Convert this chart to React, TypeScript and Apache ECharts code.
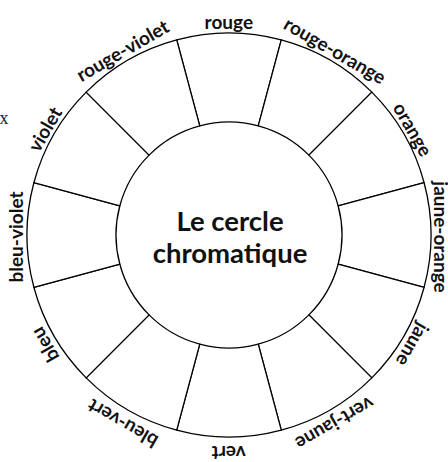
import React, { useEffect, useRef } from "react";
import * as echarts from "echarts";

const colorNames: string[] = [
  "rouge",
  "rouge-orange",
  "orange",
  "jaune-orange",
  "jaune",
  "vert-jaune",
  "vert",
  "bleu-vert",
  "bleu",
  "bleu-violet",
  "violet",
  "rouge-violet",
];
const sliceValues: number[] = [1, 1, 1, 1, 1, 1, 1, 1, 1, 1, 1, 1];
const titleLines: string[] = ["Le cercle", "chromatique"];
const strayText = "x";

const CX = 229;
const CY = 235;
const R_IN = 113;
const R_OUT = 202;
const LABEL_CX = 228.8;
const LABEL_CY = 237;
const LABEL_RX = 213;
const LABEL_RY = 216;
const FONT = "Lato, 'Open Sans', sans-serif";

export default function App() {
  const ref = useRef<HTMLDivElement>(null);
  useEffect(() => {
    if (!ref.current) return;
    const chart = echarts.init(ref.current, null, { renderer: "svg" });
    const n = colorNames.length;
    const step = 360 / n;
    const labelGraphics = colorNames.map((name, i) => {
      const theta = (i * step * Math.PI) / 180;
      return {
        type: "text",
        x: LABEL_CX + LABEL_RX * Math.sin(theta),
        y: LABEL_CY - LABEL_RY * Math.cos(theta),
        rotation: -theta,
        silent: true,
        style: {
          text: name,
          fontFamily: FONT,
          fontWeight: "bold",
          fontSize: 19,
          fill: "#111",
          align: "center",
          verticalAlign: "middle",
        },
      };
    });
    chart.setOption({
      animation: false,
      series: [
        {
          type: "pie",
          center: [CX, CY],
          radius: [R_IN, R_OUT],
          startAngle: 90 + step / 2,
          clockwise: true,
          silent: true,
          label: { show: false },
          labelLine: { show: false },
          emphasis: { disabled: true },
          itemStyle: { color: "#ffffff", borderColor: "#000000", borderWidth: 1.3 },
          data: colorNames.map((name, i) => ({ name, value: sliceValues[i] })),
        },
      ],
      graphic: [
        ...labelGraphics,
        {
          type: "text",
          x: CX + 1,
          y: CY + 1,
          silent: true,
          style: {
            text: titleLines.join("\n"),
            fontFamily: FONT,
            fontWeight: "bold",
            fontSize: 27.5,
            lineHeight: 32,
            fill: "#111",
            align: "center",
            verticalAlign: "middle",
          },
        },
        {
          type: "text",
          x: 4,
          y: 118,
          silent: true,
          style: {
            text: strayText,
            fontFamily: "'Liberation Serif', serif",
            fontSize: 18,
            fill: "#222",
            align: "center",
            verticalAlign: "middle",
          },
        },
      ],
    });
    return () => chart.dispose();
  }, []);
  return (
    <div
      ref={ref}
      style={{ position: "absolute", left: 0, top: 0, width: 448, height: 462, background: "#fff" }}
    />
  );
}
